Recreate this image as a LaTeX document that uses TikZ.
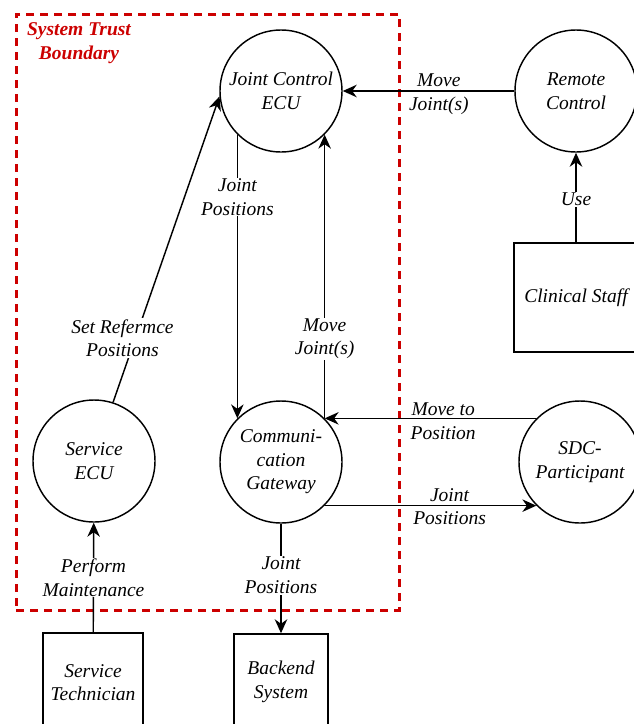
\documentclass[tikz,border=0pt]{standalone}
\usepackage{fontspec}
\setmainfont{Liberation Serif}
\usepackage{xcolor}
\usetikzlibrary{arrows.meta, calc}
\definecolor{trustred}{HTML}{CC0000}

\begin{document}
\begin{tikzpicture}[x=1pt, y=-1pt, >={Stealth[length=14pt, width=12.5pt, inset=4.5pt]}, line width=1.45pt,
  every node/.style={font=\fontsize{19.5}{23.5}\selectfont\itshape},
  proc/.style={draw, circle, minimum size=122pt, inner sep=0pt, align=center},
  extent/.style={draw, rectangle, inner sep=0pt, align=center},
  lbl/.style={fill=white, inner sep=1pt, align=center},
  lblbare/.style={inner sep=0pt, align=center, yshift=-3pt}]
  \useasboundingbox (0,0) rectangle (633,724);
  % trust boundary
  \node[draw=trustred, line width=3pt, dash pattern=on 8pt off 6pt, minimum width=383pt, minimum height=596pt] (trust) at (207.5,312) {};
  \node[text=trustred, align=center, font=\fontsize{19.5}{23.5}\selectfont\bfseries\itshape] (trustlbl) at (79,43) {System Trust\\Boundary};
  % processes
  \node[proc] (jcecu) at (281,91) {Joint Control\\ECU};
  \node[proc] (remote) at (576,91) {Remote\\Control};
  \node[proc] (svcecu) at (94,461) {Service\\ECU};
  \node[proc] (gateway) at (281,462) {Communi-\\cation\\Gateway};
  \node[proc] (sdc) at (580,462) {SDC-\\Participant};
  % external entities
  \node[extent, minimum width=124pt, minimum height=109pt] (staff) at (576,297.5) {Clinical Staff};
  \node[extent, minimum width=100pt, minimum height=99pt] (tech) at (93,682.5) {Service\\Technician};
  \node[extent, minimum width=94pt, minimum height=96pt] (backend) at (281,682) {Backend\\System};
  % flows
  \draw[->] (remote) -- (jcecu) node[lblbare, pos=.44] {Move\\Joint(s)};
  \draw[->] (staff) -- (remote) node[lbl, pos=.48] {Use};
  \draw[->] (jcecu.-135) -- (gateway.135) node[lbl, pos=.22] {Joint\\Positions};
  \draw[->] (gateway.45) -- (jcecu.-45) node[lbl, pos=.28] {Move\\Joint(s)};
  \draw[->] (svcecu.72) -- (jcecu.185) node[lbl, pos=.21, xshift=-13pt] {Set Refermce\\Positions};
  \draw[->] (sdc.135) -- (gateway.45) node[lblbare, pos=.44] {Move to\\Position};
  \draw[->] (gateway.-45) -- (sdc.-135) node[lblbare, pos=.59, yshift=2pt] {Joint\\Positions};
  \draw[->] (tech) -- (svcecu) node[lbl, pos=.5] {Perform\\Maintenance};
  \draw[->] (gateway) -- (backend) node[lbl, pos=.47] {Joint\\Positions};
\end{tikzpicture}
\end{document}
